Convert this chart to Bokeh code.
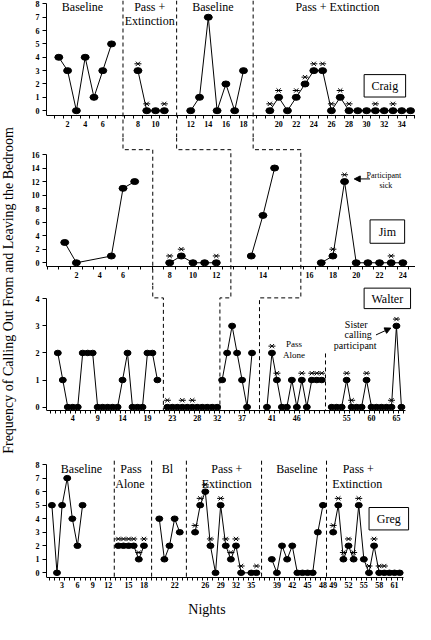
import math
from bokeh.plotting import figure
from bokeh.models import Range1d, LinearAxis, FixedTicker, Arrow, NormalHead
from bokeh.layouts import row, column
from bokeh.core.properties import value
from bokeh.embed import file_html
from bokeh.resources import INLINE

# ---------------- data ----------------
craig_nights = list(range(1, 36))
craig_values = [4, 3, 0, 4, 1, 3, 5,
                3, 0, 0, 0,
                0, 1, 7, 0, 2, 0, 3,
                0, 1, 0, 1, 2, 3, 3, 0, 1, 0, 0, 0, 0, 0, 0, 0, 0]
craig_stars = [0] * 7 + [1, 1, 0, 1] + [0] * 7 + [1, 1, 0, 1, 1, 1, 1, 1, 1, 1, 0, 0, 1, 0, 1, 0, 0]
craig_phase = [0] * 7 + [1] * 4 + [2] * 7 + [3] * 17
craig_phase_start = [1, 8, 12, 19]
craig_ticks = [2, 4, 6, 8, 10, 12, 14, 16, 18, 20, 22, 24, 26, 28, 30, 32, 34]

jim_nights = [1, 2, 5, 6, 7, 8, 9, 10, 11, 12, 13, 14, 15, 17, 18, 19, 20, 21, 22, 23, 24]
jim_values = [3, 0, 1, 11, 12, 0, 1, 0, 0, 0, 1, 7, 14, 0, 1, 12, 0, 0, 0, 0, 0]
jim_stars = [0] * 5 + [1, 1, 0, 0, 1] + [0] * 3 + [0, 1, 1, 0, 0, 0, 1, 0]
jim_phase = [0] * 5 + [1] * 5 + [2] * 3 + [3] * 8
jim_phase_start = [1, 8, 13, 16]
jim_ticks = [2, 4, 6, 8, 10, 12, 14, 16, 18, 20, 22, 24]

walter_nights = list(range(1, 67))
walter_values = ([2, 1, 0, 0, 0, 2, 2, 2, 0, 0, 0, 0, 0, 1, 2, 0, 0, 0, 2, 2, 1]
                 + [0] * 11
                 + [1, 2, 3, 2, 1, 0, 2]
                 + [0, 2, 1, 0, 0, 1, 0, 1, 0, 1, 1, 1]
                 + [0, 0, 0, 1, 0, 0, 0, 1, 0, 0, 0, 0, 0, 3, 0])
walter_stars = ([0] * 21 + [1, 0, 0, 1, 0, 1, 0, 0, 0, 0, 0] + [0] * 7
                + [0, 1, 1, 0, 0, 0, 0, 1, 0, 1, 1, 1]
                + [0, 0, 0, 1, 1, 0, 0, 1, 0, 0, 0, 0, 1, 1, 0])
walter_phase = [0] * 21 + [1] * 11 + [2] * 7 + [3] * 12 + [4] * 15
walter_phase_start = [1, 22, 33, 40, 52]
walter_ticks = [4, 9, 14, 19, 23, 28, 32, 37, 41, 46, 55, 60, 65]

greg_nights = (list(range(1, 8)) + list(range(13, 19)) + list(range(19, 24))
               + list(range(24, 34)) + [35, 36] + list(range(38, 49)) + list(range(49, 63)))
greg_values = ([5, 0, 5, 7, 4, 2, 5]
               + [2, 2, 2, 2, 1, 2]
               + [4, 1, 2, 4, 3]
               + [3, 5, 6, 2, 0, 5, 2, 1, 2, 0, 0, 0]
               + [1, 0, 2, 1, 2, 0, 0, 0, 0, 3, 5]
               + [3, 5, 1, 2, 1, 5, 1, 0, 2, 0, 0, 0, 0, 0])
greg_stars = ([0] * 7 + [1] * 6 + [0] * 5
              + [1, 1, 1, 1, 0, 1, 1, 1, 1, 1, 0, 1]
              + [0] * 11
              + [1, 1, 1, 1, 1, 1, 0, 1, 1, 1, 1, 0, 0, 0])
greg_phase = [0] * 7 + [1] * 6 + [2] * 5 + [3] * 12 + [4] * 11 + [5] * 14
greg_phase_start = [1, 13, 19, 24, 37, 49]
greg_ticks = [3, 6, 9, 12, 15, 18, 22, 26, 29, 32, 35, 39, 42, 45, 48, 49, 52, 55, 58, 61]

# ---------------- layout helpers ----------------
FONT = "Liberation Serif"
KX = 415 / 420
KY = 624 / 640
FRAME_L, FRAME_R = 54, 423
LABEL_W = 24
PANEL_W = 415 - LABEL_W


def ref_x(px):
    return 8 + (px - 8) / KX


def ref_y(py):
    return (py - 8) / KY


class Geo:
    def __init__(self, x1, s, y0, u, top, h):
        self.x1, self.s, self.y0, self.u, self.top, self.h = x1, s, y0, u, top, h

    def xd(self, xr):
        return (xr - self.x1) / self.s + 1

    def yd(self, yr):
        return (self.y0 - yr) / self.u

    def xr(self, xd):
        return self.x1 + (xd - 1) * self.s


def phase_of(n, starts):
    ph = 0
    for i, st in enumerate(starts):
        if n >= st:
            ph = i
    return ph


def make_panel(geo, nights, values, stars, phases, starts, offsets, ticks,
               ymax, ystep, xaxis_ref, xend_ref, dot_w, dot_h):
    p = figure(width=PANEL_W, height=geo.h, output_backend="svg", toolbar_location=None,
               x_axis_location=None, y_axis_location=None,
               min_border_left=FRAME_L - 8 - LABEL_W, min_border_right=0,
               min_border_top=0, min_border_bottom=0,
               x_range=Range1d(geo.xd(ref_x(FRAME_L)), geo.xd(ref_x(FRAME_R))),
               y_range=Range1d(geo.yd(ref_y(geo.top + geo.h)), geo.yd(ref_y(geo.top))))
    p.outline_line_color = None
    p.grid.visible = False
    p.background_fill_color = "white"

    slots = [n + offsets[ph] for n, ph in zip(nights, phases)]
    for ph in range(len(offsets)):
        xs = [s for s, q in zip(slots, phases) if q == ph]
        ys = [v for v, q in zip(values, phases) if q == ph]
        if xs:
            p.line(xs, ys, line_color="black", line_width=1)
    p.ellipse(x=slots, y=values, width=dot_w, height=dot_h, width_units="screen",
              height_units="screen", fill_color="black", line_color="black")
    sx = [s for s, st in zip(slots, stars) if st]
    sy = [v + 7.0 / geo.u for v, st in zip(values, stars) if st]
    p.scatter(sx, sy, marker="x", size=6, line_color="black", line_width=1)
    p.scatter(sx, sy, marker="dash", size=7, line_color="black", line_width=1)

    # y axis
    ya = LinearAxis(ticker=FixedTicker(ticks=list(range(0, ymax + 1, ystep))),
                    bounds=(geo.yd(xaxis_ref), ymax),
                    major_tick_out=4, major_tick_in=0, minor_tick_out=0, minor_tick_in=0,
                    major_label_standoff=3, axis_line_color="black",
                    major_tick_line_color="black",
                    major_label_text_color="black",
                    major_label_text_font=FONT, major_label_text_font_size="8px",
                    major_label_text_font_style="bold")
    p.add_layout(ya, "left")

    # x axis
    tick_slots = [t + offsets[phase_of(t, starts)] for t in ticks]
    x0 = p.x_range.start
    x1e = geo.xd(xend_ref)
    minor = [k + 0.5 for k in range(math.floor(x0) - 1, math.ceil(x1e) + 1) if x0 <= k + 0.5 <= x1e]
    xa = LinearAxis(fixed_location=geo.yd(xaxis_ref),
                    ticker=FixedTicker(ticks=tick_slots, minor_ticks=minor),
                    bounds=(x0, x1e),
                    major_label_overrides={s: str(t) for s, t in zip(tick_slots, ticks)},
                    major_tick_out=3, major_tick_in=0, major_tick_line_color=None,
                    minor_tick_out=3, minor_tick_in=0, minor_tick_line_color="black",
                    major_label_standoff=2, axis_line_color="black",
                    major_label_text_color="black",
                    major_label_text_font=FONT, major_label_text_font_size="8px",
                    major_label_text_font_style="bold")
    p.add_layout(xa, "below")
    return p, slots


def dashed(p, xs, ys):
    p.multi_line(xs, ys, line_color="black", line_width=1, line_dash="4 3")


def texts(p, geo, items, size):
    p.text(x=[geo.xd(a) for _, a, _ in items], y=[geo.yd(b) for _, _, b in items],
           text=[t for t, _, _ in items], text_font=value(FONT), text_font_size=size,
           text_align="center", text_baseline="middle", text_color="black")


def name_box(p, geo, name, l, r, t, b):
    p.quad(left=[geo.xd(l)], right=[geo.xd(r)], top=[geo.yd(t)], bottom=[geo.yd(b)],
           fill_color="white", line_color="black", line_width=1)
    texts(p, geo, [(name, (l + r) / 2, (t + b) / 2 + 0.5)], "12px")


# ---------------- panels ----------------
g_craig = Geo(67, 8.9, 113, 13.69, 8, 137)
g_jim = Geo(73, 11.8, 269, 6.94, 145, 148)
g_walter = Geo(66, 5.04, 417, 27.75, 293, 154)
g_greg = Geo(60, 5.176, 587, 13.875, 447, 185)

craig, _ = make_panel(g_craig, craig_nights, craig_values, craig_stars, craig_phase,
                      craig_phase_start, [0, 2, 4, 6], craig_ticks, 8, 1, 118, 428, 8, 6)
jim, _ = make_panel(g_jim, jim_nights, jim_values, jim_stars, jim_phase,
                    jim_phase_start, [0, 2, 4, 6], jim_ticks, 16, 2, 273, 428, 8, 6)
walter, _ = make_panel(g_walter, walter_nights, walter_values, walter_stars, walter_phase,
                       walter_phase_start, [0, 1, 1, 3, 4], walter_ticks, 4, 1, 420, 418, 7, 5.5)
greg, _ = make_panel(g_greg, greg_nights, greg_values, greg_stars, greg_phase,
                     greg_phase_start, [0, 1, 3, 5, 6, 7], greg_ticks, 8, 1, 591.5, 416, 7, 5.5)

# phase-change lines (session positions)
craig_breaks = [8.3, 14.4, 23.1]
jim_breaks = [8.55, 15.25, 21.25]
walter_breaks = [22.2, 33.55, 41.5, 54.75]
greg_breaks = [13.2, 20.5, 27.3, 42.0, 54.7]

ytop = craig.y_range.end
ybot = craig.y_range.start
dashed(craig, [[b, b] for b in craig_breaks], [[ybot, ytop]] * len(craig_breaks))

xs, ys = [], []
for cb, jb in zip(craig_breaks, jim_breaks):
    xprev = g_jim.xd(g_craig.xr(cb))
    sy = g_jim.yd(153)
    xs.append([xprev, xprev, jb, jb])
    ys.append([jim.y_range.end, sy, sy, jim.y_range.start])
dashed(jim, xs, ys)

xs, ys = [], []
for jb, wb in zip(jim_breaks, walter_breaks[:3]):
    xprev = g_walter.xd(g_jim.xr(jb))
    sy = g_walter.yd(305)
    xs.append([xprev, xprev, wb, wb])
    ys.append([walter.y_range.end, sy, sy, g_walter.yd(420)])
xs.append([walter_breaks[3], walter_breaks[3]])
ys.append([g_walter.yd(362), g_walter.yd(420)])
dashed(walter, xs, ys)

dashed(greg, [[b, b] for b in greg_breaks], [[g_greg.yd(472), g_greg.yd(591.5)]] * len(greg_breaks))

# ---------------- annotations ----------------
texts(craig, g_craig, [("Baseline", 91, 7), ("Pass +", 159, 7), ("Extinction", 159, 21),
                       ("Baseline", 223, 7), ("Pass + Extinction", 349, 7)], "12px")
name_box(craig, g_craig, "Craig", 376, 418, 76, 99)

texts(jim, g_jim, [("Participant", 396, 179), ("sick", 398, 190)], "8px")
name_box(jim, g_jim, "Jim", 382, 417, 225, 249)
jim.add_layout(Arrow(end=NormalHead(size=6, fill_color="black", line_color="black"),
                     x_start=g_jim.xd(382), y_start=g_jim.yd(183),
                     x_end=g_jim.xd(366), y_end=g_jim.yd(183), line_color="black", line_width=1))

texts(walter, g_walter, [("Pass", 305, 352), ("Alone", 305, 364)], "9px")
texts(walter, g_walter, [("Sister", 368, 332), ("calling", 370, 343), ("participant", 367, 354)], "10px")
name_box(walter, g_walter, "Walter", 376, 423, 295, 316)
walter.add_layout(Arrow(end=NormalHead(size=6, fill_color="black", line_color="black"),
                        x_start=g_walter.xd(388), y_start=g_walter.yd(343),
                        x_end=g_walter.xd(403), y_end=g_walter.yd(336), line_color="black", line_width=1))

texts(greg, g_greg, [("Baseline", 90, 480), ("Pass", 140, 480), ("Alone", 139, 496), ("Bl", 177, 480),
                     ("Pass +", 237, 480), ("Extinction", 237, 496), ("Baseline", 308, 480),
                     ("Pass +", 370, 480), ("Extinction", 369, 496)], "12px")
name_box(greg, g_greg, "Greg", 381, 421, 520, 543)
texts(greg, g_greg, [("Nights", 217, 625)], "14px")

# ---------------- y label strip ----------------
lab = figure(width=LABEL_W, height=624, output_backend="svg", toolbar_location=None,
             x_axis_location=None, y_axis_location=None,
             x_range=Range1d(0, LABEL_W), y_range=Range1d(0, 624), min_border=0)
lab.outline_line_color = None
lab.grid.visible = False
lab.text(x=[8], y=[624 - 290], text=["Frequency of Calling Out From and Leaving the Bedroom"],
         angle=math.pi / 2, text_font=value(FONT), text_font_size="14px",
         text_align="center", text_baseline="middle", text_color="black")

layout = row(lab, column(craig, jim, walter, greg))
open("out.html", "w").write(file_html(layout, INLINE))
